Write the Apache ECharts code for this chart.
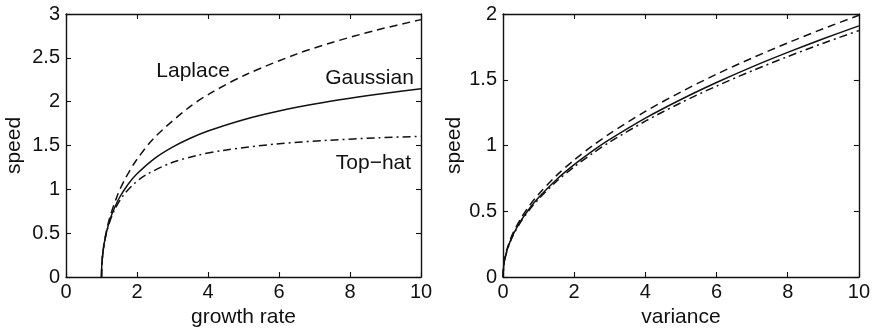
<!DOCTYPE html>
<html>
<head>
<meta charset="utf-8">
<script src="https://cdn.jsdelivr.net/npm/echarts@6/dist/echarts.min.js"></script>
<style>
html,body{margin:0;padding:0;background:#fff;}
#c{width:873px;height:333px;}
</style>
</head>
<body>
<div id="c"></div>
<script>
// ---- Left panel: speed vs growth rate ----
const gaussR = [1, 1.01, 1.05, 1.1, 1.2, 1.3, 1.5, 1.75, 2, 2.5, 3, 3.5, 4, 5, 6, 7, 8, 9, 10];
const gaussC = [0, 0.141, 0.312, 0.437, 0.604, 0.724, 0.901, 1.058, 1.177, 1.354, 1.482, 1.583, 1.665, 1.794, 1.893, 1.973, 2.039, 2.096, 2.146];
const lapR = [1, 1.0102, 1.0434, 1.109, 1.2295, 1.4608, 1.660, 1.971, 2.495, 3.484, 4.146, 5.092, 6.508, 7.494, 8.756, 10];
const lapC = [0, 0.143, 0.295, 0.466, 0.673, 0.943, 1.115, 1.326, 1.592, 1.941, 2.114, 2.313, 2.545, 2.675, 2.817, 2.936];
const topR = [1, 1.0102, 1.0415, 1.1637, 1.3592, 1.6151, 1.9156, 2.246, 2.952, 3.681, 4.415, 5.886, 7.357, 8.830, 10];
const topC = [0, 0.141, 0.284, 0.542, 0.759, 0.931, 1.063, 1.163, 1.300, 1.386, 1.443, 1.516, 1.559, 1.588, 1.605];

// ---- Right panel: speed vs variance ----
const variance = [0, 0.02, 0.05, 0.1, 0.2, 0.3, 0.5, 0.75, 1, 1.5, 2, 2.5, 3, 4, 5, 6, 7, 8, 9, 10];
const gaussV = [0, 0.085, 0.135, 0.191, 0.270, 0.331, 0.427, 0.523, 0.604, 0.740, 0.854, 0.955, 1.046, 1.208, 1.350, 1.479, 1.598, 1.708, 1.812, 1.910];
const lapV   = [0, 0.089, 0.141, 0.199, 0.281, 0.345, 0.445, 0.545, 0.629, 0.771, 0.890, 0.995, 1.090, 1.259, 1.407, 1.542, 1.665, 1.780, 1.888, 1.990];
const topV   = [0, 0.084, 0.133, 0.187, 0.265, 0.325, 0.419, 0.513, 0.593, 0.726, 0.838, 0.937, 1.027, 1.185, 1.325, 1.452, 1.568, 1.676, 1.778, 1.874];

// annotations (left panel), in data units
const annoText = ['Laplace', 'Gaussian', 'Top\u2212hat'];
const annoX = [3.58, 8.55, 8.66];
const annoY = [2.345, 2.265, 1.295];

const leftXTicks = {min: 0, max: 10, interval: 2};
const leftYTicks = {min: 0, max: 3, interval: 0.5};
const rightXTicks = {min: 0, max: 10, interval: 2};
const rightYTicks = {min: 0, max: 2, interval: 0.5};

const FONT = '"Liberation Sans", Arial, Helvetica, sans-serif';
const INK = '#111';
const zip = (a, b) => a.map((v, i) => [v, b[i]]);

function axisBase(t, extra) {
  return Object.assign({
    type: 'value', min: t.min, max: t.max, interval: t.interval,
    axisLine: {show: true, onZero: false, lineStyle: {color: INK, width: 1.4}},
    axisTick: {show: true, inside: true, length: 5, lineStyle: {color: INK, width: 1.1}},
    splitLine: {show: false},
    axisLabel: {show: true, color: INK, fontSize: 20, fontFamily: FONT, margin: 5},
    nameTextStyle: {color: INK, fontSize: 21, fontFamily: FONT}
  }, extra);
}
function mirror(ax) {
  const m = JSON.parse(JSON.stringify(ax));
  m.axisLabel.show = false;
  m.name = '';
  return m;
}

const xL = axisBase(leftXTicks, {gridIndex: 0, position: 'bottom', name: 'growth rate', nameLocation: 'middle', nameGap: 30});
const yL = axisBase(leftYTicks, {gridIndex: 0, position: 'left', name: 'speed', nameLocation: 'middle', nameGap: 41});
const xR = axisBase(rightXTicks, {gridIndex: 1, position: 'bottom', name: 'variance', nameLocation: 'middle', nameGap: 30});
const yR = axisBase(rightYTicks, {gridIndex: 1, position: 'left', name: 'speed', nameLocation: 'middle', nameGap: 38});
yL.axisLabel.margin = 6; yR.axisLabel.margin = 6;
const xLt = mirror(xL); xLt.position = 'top';
const yLr = mirror(yL); yLr.position = 'right';
const xRt = mirror(xR); xRt.position = 'top';
const yRr = mirror(yR); yRr.position = 'right';

function line(xi, yi, data, type) {
  return {
    type: 'line', xAxisIndex: xi, yAxisIndex: yi, data: data,
    showSymbol: false, smooth: 0.3, animation: false, silent: true,
    lineStyle: {color: INK, width: 1.5, type: type}
  };
}

const chart = echarts.init(document.getElementById('c'), null, {renderer: 'canvas'});
chart.setOption({
  backgroundColor: '#fff',
  animation: false,
  grid: [
    {left: 66, top: 14, width: 355, height: 270},
    {left: 503, top: 14, width: 357, height: 271}
  ],
  xAxis: [xL, xLt, xR, xRt],
  yAxis: [yL, yLr, yR, yRr],
  series: [
    line(0, 0, zip(lapR, lapC), [8, 5]),
    line(0, 0, zip(gaussR, gaussC), 'solid'),
    line(0, 0, zip(topR, topC), [8, 4, 2, 4]),
    line(2, 2, zip(variance, lapV), [8, 5]),
    line(2, 2, zip(variance, gaussV), 'solid'),
    line(2, 2, zip(variance, topV), [8, 4, 2, 4]),
    {
      type: 'scatter', xAxisIndex: 0, yAxisIndex: 0, symbolSize: 0, silent: true,
      itemStyle: {opacity: 1},
      data: annoText.map((t, i) => ({value: [annoX[i], annoY[i]], name: t})),
      label: {show: true, position: 'inside', formatter: p => p.name, color: INK, fontSize: 21, fontFamily: FONT}
    }
  ]
});
</script>
</body>
</html>
